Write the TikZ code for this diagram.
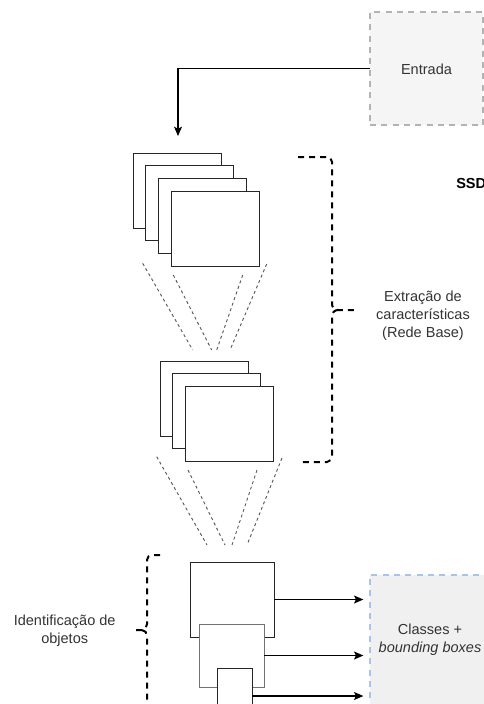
\documentclass[tikz,border=0pt]{standalone}
\usepackage{fontspec}
\setmainfont{Liberation Sans}
\usetikzlibrary{arrows.meta}
\definecolor{txt}{HTML}{333333}
\definecolor{boxgray}{HTML}{F5F5F5}
\definecolor{boxgraydraw}{HTML}{B3B3B3}
\definecolor{boxblue}{HTML}{A9C4EB}
\definecolor{boxbluefill}{HTML}{F0F0F0}
\tikzset{
  layer/.style={draw=black!85, fill=white, line width=0.75pt, inner sep=0pt, outer sep=0pt, anchor=north west, minimum width=66pt, minimum height=56.25pt},
  layerg/.style={layer, draw=black!55},
  lbl/.style={text=txt, font=\fontsize{10.9}{13.5}\selectfont, align=center, inner sep=0pt},
  ioentrada/.style={draw=boxgraydraw, fill=boxgray, line width=1.1pt, dash pattern=on 4.5pt off 4pt, minimum width=84.75pt, minimum height=84.75pt, inner sep=0pt, outer sep=0pt},
  ioclasses/.style={draw=boxblue, fill=boxbluefill, line width=1.1pt, dash pattern=on 4.5pt off 4pt, minimum width=90pt, minimum height=97.5pt, inner sep=0pt, outer sep=0pt},
  arr/.style={draw=black, line width=0.8pt, -{Stealth[length=7pt,width=6pt,inset=1.5pt]}},
  bracestyle/.style={draw=black, line width=1.5pt, dash pattern=on 4.5pt off 3.75pt},
  funnel/.style={draw=black!65, line width=0.7pt, dash pattern=on 2.2pt off 2.2pt},
}
\begin{document}
\begin{tikzpicture}[x=0.75pt,y=-0.75pt]
\clip (0,0) rectangle (484,704);
\fill[white] (0,0) rectangle (484,704);

% Entrada
\node[ioentrada] (entrada) at (426.5,68.5) {};
\node[lbl] (entradatxt) at (426.5,69) {Entrada};
\coordinate (intip) at (178,136);
\draw[arr] (entrada.west) -| (intip);

% SSD
\node[lbl, anchor=west, font=\fontsize{10.9}{13.5}\selectfont\bfseries, text=black] (ssd) at (456,183) {SSD};

% top stack
\node[layer] (t1) at (133,153) {};
\node[layer] (t2) at (145.7,165.7) {};
\node[layer] (t3) at (158.3,178.3) {};
\node[layer] (t4) at (171,191) {};

% funnel 1
\draw[funnel] (142.7,263.3) -- (192.7,350);
\draw[funnel] (173.3,275) -- (211.7,350);
\draw[funnel] (242.7,275) -- (216.7,350);
\draw[funnel] (266.7,264) -- (230,350);

% middle stack
\node[layer] (m1) at (160,361) {};
\node[layer] (m2) at (172.5,373.5) {};
\node[layer] (m3) at (185,386) {};

% funnel 2
\draw[funnel] (156.7,456.7) -- (207,545);
\draw[funnel] (188,470) -- (225,545);
\draw[funnel] (257,470) -- (232,545);
\draw[funnel] (282,458) -- (247,545);

% right brace
\draw[bracestyle] (298,157) -- (327,157) to[out=0,in=90] (332,162) -- (332,304) to[out=-90,in=180] (338,310) -- (358,310);
\draw[bracestyle] (338,310) to[out=180,in=90] (332,316) -- (332,456) to[out=-90,in=0] (327,462) -- (298,462);
\node[lbl] (extr) at (423,316) {Extração de\\características\\(Rede Base)};

% bottom layers
\node[layer, minimum width=63pt, minimum height=56.25pt] (b1) at (190,562) {};
\node[layerg, minimum width=48.75pt, minimum height=47.25pt] (b2) at (199,624) {};
\node[layer, minimum width=26.25pt, minimum height=42pt] (b3) at (217,668) {};

% left brace
\draw[bracestyle] (160,555) -- (152,555) to[out=180,in=90] (147,560) -- (147,624) to[out=-90,in=0] (142,630) -- (136,630);
\draw[bracestyle] (142,630) to[out=0,in=90] (147,636) -- (147,720);
\node[lbl] (ident) at (64.7,631) {Identificação de\\objetos};

% Classes box
\node[ioclasses] (classes) at (430,640) {};
\node[lbl] (classestxt) at (430,640) {Classes +\\\itshape bounding boxes};

\draw[arr, shorten >=5pt] (b1.east) -- (b1.east -| classes.west);
\draw[arr, shorten >=5pt] (b2.east) -- (b2.east -| classes.west);
\draw[arr, shorten >=5pt] (b3.east) -- (b3.east -| classes.west);
\end{tikzpicture}
\end{document}
